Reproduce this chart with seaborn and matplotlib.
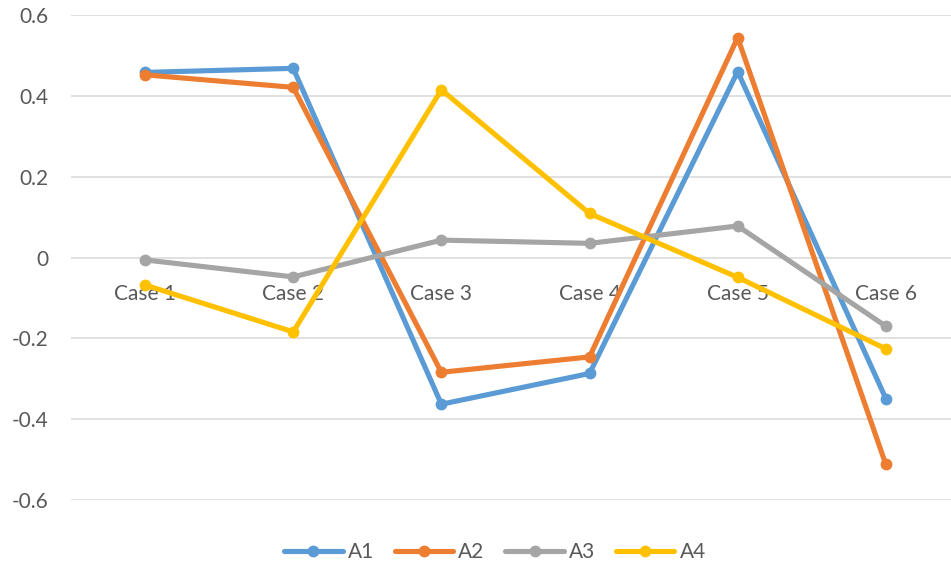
import matplotlib
matplotlib.use("Agg")
import matplotlib.pyplot as plt
import seaborn as sns
import pandas as pd

cases = ["Case 1", "Case 2", "Case 3", "Case 4", "Case 5", "Case 6"]
a1 = [0.458, 0.468, -0.363, -0.287, 0.460, -0.349]
a2 = [0.452, 0.421, -0.284, -0.246, 0.544, -0.512]
a3 = [-0.006, -0.048, 0.043, 0.035, 0.078, -0.170]
a4 = [-0.068, -0.184, 0.415, 0.109, -0.049, -0.226]
series_names = ["A1", "A2", "A3", "A4"]
y_ticks = [-0.6, -0.4, -0.2, 0, 0.2, 0.4, 0.6]
y_tick_labels = ["-0.6", "-0.4", "-0.2", "0", "0.2", "0.4", "0.6"]

rows = []
for name, vals in zip(series_names, [a1, a2, a3, a4]):
    for c, v in zip(cases, vals):
        rows.append({"case": c, "value": v, "series": name})
df = pd.DataFrame(rows)

sns.set_style("white")
plt.rcParams["font.family"] = ["Lato", "DejaVu Sans"]

palette = {"A1": "#5B9BD5", "A2": "#ED7D31", "A3": "#A5A5A5", "A4": "#FFC000"}
text_color = "#595959"

fig = plt.figure(figsize=(9.51, 5.69), dpi=100)
ax = fig.add_axes([71 / 951, 69 / 569, 880 / 951, 485 / 569])

sns.lineplot(data=df, x="case", y="value", hue="series", palette=palette,
             marker="o", markersize=8.5, markeredgewidth=0, linewidth=3.7,
             ax=ax, sort=False)

ax.set_xlim(-0.5, 5.44)
ax.set_ylim(-0.6, 0.6)
ax.set_yticks(y_ticks)
ax.set_yticklabels(y_tick_labels)
ax.set_axisbelow(True)
ax.grid(axis="y", color="#D9D9D9", linewidth=1.1)
ax.grid(axis="x", visible=False)
for s in ax.spines.values():
    s.set_visible(False)
ax.spines["bottom"].set_position(("data", 0))
ax.tick_params(axis="y", length=0, pad=16, labelsize=15, labelcolor=text_color)
ax.tick_params(axis="x", length=0, pad=19, labelsize=15, labelcolor=text_color)
ax.set_xlabel("")
ax.set_ylabel("")

handles, labels = ax.get_legend_handles_labels()
leg = ax.legend(handles, labels, loc="center", bbox_to_anchor=(495 / 951, 17 / 569),
                bbox_transform=fig.transFigure, ncol=4, frameon=False,
                fontsize=15, handlelength=2.8, handletextpad=0.25,
                columnspacing=1.0, labelcolor=text_color)
for h in leg.legend_handles:
    h.set_linewidth(3.7)
    h.set_markersize(8.5)

fig.savefig("out.png", dpi=100)
